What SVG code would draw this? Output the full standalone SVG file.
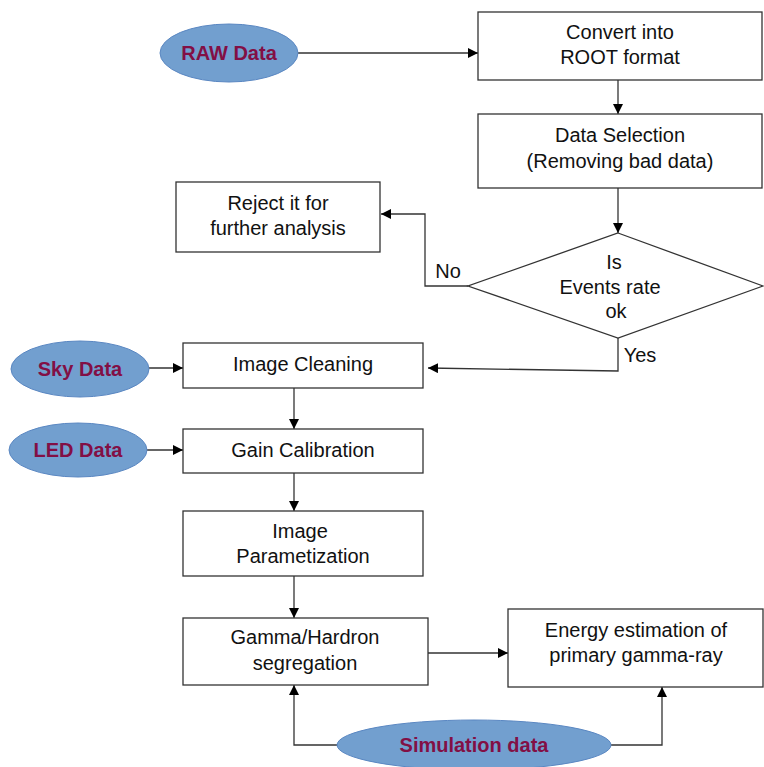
<svg xmlns="http://www.w3.org/2000/svg" width="764" height="767" viewBox="0 0 764 767">
<defs>
<marker id="arr" viewBox="0 0 10 10" refX="10" refY="5" markerWidth="10" markerHeight="10" markerUnits="userSpaceOnUse" orient="auto">
<path d="M0,0 L10,5 L0,10 z" fill="#000"/>
</marker>
<style>
.box{fill:#fff;stroke:#333;stroke-width:1.3}
.ell{fill:#729fcf;stroke:#5a87c2;stroke-width:1}
.t{font-family:"Liberation Sans",Arial,sans-serif;font-size:20px;fill:#111;text-anchor:middle}
.et{font-family:"Liberation Sans",Arial,sans-serif;font-size:20px;font-weight:bold;fill:#820f45;text-anchor:middle}
.c{fill:none;stroke:#333;stroke-width:1.3;marker-end:url(#arr)}
</style>
</defs>
<rect width="764" height="767" fill="#fff"/>
<g id="connectors">
<path class="c" d="M298,53 H478"/>
<path class="c" d="M618,80 V114"/>
<path class="c" d="M618,188 V233"/>
<path class="c" d="M468,286 H425 V214 H381"/>
<path class="c" d="M618,338 V371 L428,368"/>
<path class="c" d="M149,368 H183"/>
<path class="c" d="M294,388 V429"/>
<path class="c" d="M146,450 H183"/>
<path class="c" d="M294,473 V511"/>
<path class="c" d="M294,576 V618"/>
<path class="c" d="M428,653 H508"/>
<path class="c" d="M338,745 H294 V685"/>
<path class="c" d="M611,745 H662 V687"/>
<text class="t" x="448" y="278">No</text>
<text class="t" x="640" y="362">Yes</text>
</g>
<g id="raw"><ellipse class="ell" cx="229" cy="53" rx="69" ry="29"/><text class="et" x="229" y="60">RAW Data</text></g>
<g id="convert"><rect class="box" x="478" y="12" width="284" height="68"/><text class="t" x="620" y="39">Convert into</text><text class="t" x="620" y="64">ROOT format</text></g>
<g id="selection"><rect class="box" x="478" y="114" width="284" height="74"/><text class="t" x="620" y="142">Data Selection</text><text class="t" x="620" y="168">(Removing bad data)</text></g>
<g id="decision"><polygon class="box" points="618,233 763,286 618,338 468,286"/><text class="t" x="614" y="269">Is</text><text class="t" x="610" y="294">Events rate</text><text class="t" x="616" y="318">ok</text></g>
<g id="reject"><rect class="box" x="176" y="182" width="204" height="70"/><text class="t" x="278" y="210">Reject it for</text><text class="t" x="278" y="235">further analysis</text></g>
<g id="sky"><ellipse class="ell" cx="80" cy="369" rx="69" ry="28"/><text class="et" x="80" y="376">Sky Data</text></g>
<g id="cleaning"><rect class="box" x="183" y="343" width="240" height="45"/><text class="t" x="303" y="371">Image Cleaning</text></g>
<g id="led"><ellipse class="ell" cx="78" cy="450" rx="69" ry="27"/><text class="et" x="78" y="457">LED Data</text></g>
<g id="gain"><rect class="box" x="183" y="429" width="240" height="44"/><text class="t" x="303" y="457">Gain Calibration</text></g>
<g id="param"><rect class="box" x="183" y="511" width="240" height="65"/><text class="t" x="300" y="538">Image</text><text class="t" x="303" y="563">Parametization</text></g>
<g id="gamma"><rect class="box" x="183" y="618" width="245" height="67"/><text class="t" x="305" y="644">Gamma/Hardron</text><text class="t" x="305" y="670">segregation</text></g>
<g id="energy"><rect class="box" x="508" y="609" width="255" height="78"/><text class="t" x="636" y="637">Energy estimation of</text><text class="t" x="636" y="662">primary gamma-ray</text></g>
<g id="sim"><ellipse class="ell" cx="474" cy="745" rx="137" ry="25"/><text class="et" x="474" y="752">Simulation data</text></g>
</svg>
